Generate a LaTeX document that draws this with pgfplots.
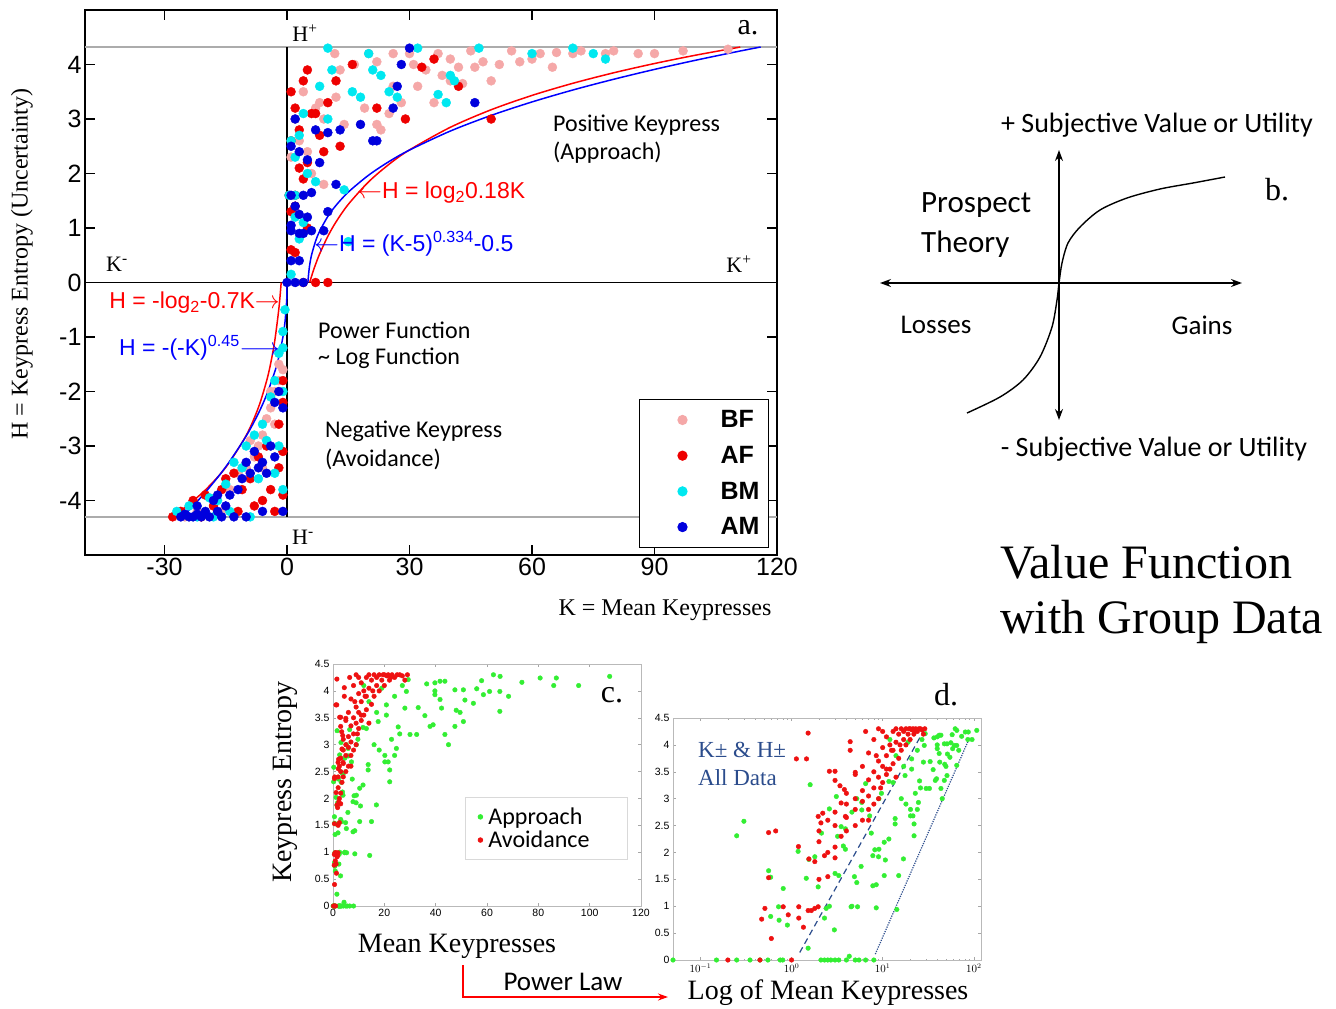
\documentclass[border=0pt]{standalone}
\usepackage{pgfplots}
\pgfplotsset{compat=1.18}
\usepackage{pgfplotstable}
\usetikzlibrary{arrows.meta}
\usepackage{fontspec}
\setmainfont{Liberation Serif}
\newfontfamily\arial{Liberation Sans}
\newfontfamily\calib{Carlito}
\newcommand\fs[1]{\fontsize{#1}{#1}\selectfont}
\definecolor{bf}{HTML}{F5A8A8}
\definecolor{af}{HTML}{EE0000}
\definecolor{bm}{HTML}{00E8F0}
\definecolor{am}{HTML}{0000DD}
\definecolor{grn}{HTML}{33EE33}
\definecolor{rd}{HTML}{EE1111}
\definecolor{dblue}{HTML}{2B4C8C}
\pgfplotsset{
  legA/.style={legend image code/.code={\path[draw=none,fill=none] (0pt,0pt) -- (72pt,0pt); \draw[mark repeat=2,mark phase=2,##1,only marks] plot coordinates {(0pt,0pt) (36pt,0pt) (72pt,0pt)};}},
  legC/.style={legend image code/.code={\path[draw=none,fill=none] (0pt,0pt) -- (12pt,0pt); \draw[mark repeat=2,mark phase=2,##1,only marks] plot coordinates {(0pt,0pt) (6pt,0pt) (12pt,0pt)};}},
}

\pgfplotstableread[row sep=\\]{
K H\\
0.25 2.31\\ 0.30 2.58\\ 0.56 1.66\\ 0.59 1.54\\ 0.59 0.81\\ 0.73 0.74\\ 0.81 1.33\\ 0.72 0.99\\
0.90 0.65\\ 1.18 2.02\\ 1.60 3.26\\ 1.52 0.22\\ 1.55 1.87\\ 1.45 1.52\\ 1.80 1.92\\ 1.96 1.36\\
2.13 2.36\\ 2.30 0.78\\ 2.40 0.96\\ 2.95 0.56\\ 3.10 3.04\\ 3.00 1.61\\ 3.50 2.48\\ 3.20 2.30\\
3.70 2.12\\ 4.50 0.99\\ 4.90 1.55\\ 5.30 0.99\\ 5.80 1.74\\ 5.90 2.79\\ 7.50 2.36\\ 8.20 2.05\\
8.50 1.40\\ 9.70 3.10\\ 9.00 1.92\\ 10.7 1.86\\ 11.7 3.32\\
0.05 0\\ 0.15 0\\ 0.25 0\\ 0.35 0\\ 0.45 0\\ 0.55 0\\ 0.75 0\\ 0.80 0\\ 2.1 0\\ 2.3 0\\ 2.5 0\\
2.7 0\\ 3.0 0\\ 3.3 0\\ 4.0 0\\ 5.0 0\\ 5.5 0\\ 6.5 0\\ 8.0 0\\ 4.3 0.07\\
65.1 4.27\\ 62.5 4.30\\ 73.6 4.16\\ 80.7 4.24\\ 87 4.24\\ 86 4.10\\ 95.7 4.10\\ 107.8 4.27\\
57.9 4.19\\ 56 4.04\\ 61 3.99\\ 58.6 3.93\\ 65 3.99\\ 68.4 3.90\\ 65 3.62\\ 54.7 3.77\\
50.8 4.02\\ 51.4 3.83\\ 47.5 4.02\\ 48 3.64\\ 49.5 3.60\\ 47.5 3.34\\ 50.8 3.43\\ 45 3.00\\
43.6 3.19\\ 43.6 4.18\\ 41.7 4.18\\ 39.7 4.15\\ 39.7 4.00\\ 39.7 3.93\\ 41.7 3.84\\ 42.3 3.68\\
39 3.37\\ 37.8 3.34\\ 35.8 3.54\\ 36.5 4.13\\ 32.6 3.19\\ 30 3.19\\ 33.2 3.69\\ 28.6 3.99\\
28 3.68\\ 29.3 4.21\\ 25.4 3.33\\ 26 3.20\\ 24.7 2.93\\ 24 2.80\\ 22.1 2.31\\ 22.1 2.53\\
22.8 3.10\\ 21.5 2.68\\ 20.2 2.68\\ 20.2 2.80\\ 20.8 3.55\\ 20.8 3.74\\ 17.6 3.43\\ 16.9 1.88\\
15 1.57\\ 14.3 0.94\\ 13.7 2.53\\ 13.7 2.63\\ 11.7 2.25\\ 10.4 2.19\\ 10.4 1.57\\ 9.1 2.06\\
9.1 3.00\\ 8.5 0.97\\ 7.8 1.38\\ 7.8 1.94\\ 4.6 1.00\\ 2.6 1.00\\ 5.2 1.44\\ 3.3 1.57\\
3.9 2.44\\ 4.6 2.75\\ 5.2 3.00\\ 6.5 3.28\\ 5.9 2.93\\ 2.6 2.81\\ 3.9 2.06\\ 7.2 2.68\\
12 4.1\\ 14 3.8\\ 17 3.6\\ 19 4.05\\ 24 3.9\\ 27 4.1\\ 13 3.3\\ 16 3.0\\ 18 2.9\\
}\approachtab

\pgfplotstableread[row sep=\\]{
K H\\
0.47 0.76\\ 0.51 0.96\\ 0.60 0.40\\ 0.56 1.53\\ 0.56 2.37\\ 0.67 2.40\\ 0.92 0.84\\ 0.81 0.99\\
1.13 3.74\\ 1.46 3.74\\ 1.52 4.22\\ 1.19 2.11\\ 1.20 0.78\\ 1.20 0.99\\ 1.35 0.61\\ 1.52 0.92\\
1.65 0.92\\ 1.80 0.96\\ 1.96 0.99\\ 1.55 1.88\\ 1.80 1.83\\ 2.00 1.50\\ 1.96 2.67\\ 2.20 2.73\\
2.10 2.55\\ 2.30 1.94\\ 2.50 1.55\\ 2.60 3.51\\ 3.00 3.51\\ 3.00 3.34\\ 3.40 3.24\\ 3.50 2.92\\
3.80 3.17\\ 3.90 2.67\\ 4.40 4.06\\ 4.40 3.90\\ 5.00 3.49\\ 0.20 0\\ 0.45 0\\ 1.00 0\\
3 1.9\\ 2.5 2.0\\ 3 2.1\\ 2 2.2\\ 3.5 2.3\\ 2 2.4\\ 4 2.4\\ 3 2.5\\ 5 2.5\\ 2.5 2.6\\ 4 2.65\\
6 2.6\\ 3 2.75\\ 5 2.8\\ 7 2.8\\ 4 2.9\\ 6 2.95\\ 8 2.9\\ 5 3.0\\ 7 3.05\\ 9 3.0\\ 4 3.1\\
6 3.15\\ 8 3.2\\ 10 3.3\\ 7 3.35\\ 9 3.4\\ 5 3.45\\ 11 3.45\\ 8 3.5\\ 12 3.55\\ 6 3.6\\ 10 3.6\\
13 3.65\\ 9 3.7\\ 15 3.75\\ 11 3.8\\ 7 3.85\\ 13 3.9\\ 16 3.9\\ 10 3.95\\ 12 4.0\\ 18 4.0\\
14 4.05\\ 17 4.1\\ 20 4.1\\ 8 4.1\\ 11 4.15\\ 15 4.2\\ 19 4.2\\ 22 4.2\\ 13 4.25\\ 17 4.25\\
21 4.28\\ 24 4.25\\ 16 4.3\\ 18 4.3\\ 20 4.3\\ 23 4.3\\ 25 4.3\\ 27 4.28\\ 29 4.3\\ 28 4.2\\
9 4.3\\ 10 4.25\\ 14 3.4\\ 7 2.6\\ 6.5 4.25\\ 8.5 3.8\\ 12.5 3.9\\ 15.5 4.0\\ 19.5 4.3\\
21.5 4.3\\ 22.5 4.25\\ 26 4.3\\ 14 4.3\\ 11 3.55\\ 9.5 3.2\\
}\avoidtab

\begin{document}
\begin{tikzpicture}
\path[use as bounding box] (0pt,0pt) rectangle (1336pt,-1009pt);

%% ---------------- Panel a ----------------
\begin{axis}[at={(85pt,-10pt)}, anchor=north west, scale only axis,
  width=692pt, height=545pt,
  xmin=-49.47, xmax=120, ymin=-5, ymax=5,
  xtick={-30,0,30,60,90,120}, ytick={-4,-3,...,4},
  tick align=inside, major tick length=10pt,
  axis line style={line width=1.5pt},
  every tick/.style={black, line width=1.2pt},
  ticklabel style={font=\arial\fs{25}},
  /pgf/number format/assume math mode=true,
  legend cell align=left,
  legend style={at={(0.9884,0.0128)}, anchor=south east, draw=black, line width=1.2pt,
    fill=white, font=\arial\bfseries\fs{25}, inner xsep=7pt, inner ysep=5pt,
    row sep=5pt, nodes={inner xsep=2pt, inner ysep=6pt}},
  mark size=4.5pt]
\addplot[forget plot, gray!65, line width=1.6pt] coordinates {(-49.47,4.32) (120,4.32)};
\addplot[forget plot, gray!65, line width=1.6pt] coordinates {(-49.47,-4.3) (120,-4.3)};
\addplot[forget plot, black, line width=1.6pt] coordinates {(-49.47,0) (120,0)};
\addplot[forget plot, black, line width=1.6pt] coordinates {(0,-4.3) (0,4.32)};
% fitted curves
\addplot[forget plot, red, line width=1.5pt, smooth] coordinates {(5.56,0) (5.7,0.037) (6,0.111) (6.5,0.227) (7,0.333) (8,0.526) (10,0.848) (12,1.111) (15,1.433) (20,1.848) (25,2.170) (30,2.433) (40,2.848) (50,3.170) (60,3.433) (70,3.655) (80,3.848) (90,4.018) (100,4.170) (111,4.320)};
\addplot[forget plot, blue, line width=1.5pt, smooth] coordinates {(5.125,0) (5.15,0.031) (5.2,0.084) (5.5,0.293) (6,0.5) (7,0.760) (8,0.943) (10,1.212) (12,1.415) (15,1.658) (20,1.970) (25,2.220) (30,2.430) (40,2.779) (50,3.066) (60,3.313) (70,3.532) (80,3.729) (90,3.910) (100,4.077) (110,4.233) (116,4.321)};
\addplot[forget plot, red, line width=1.5pt, smooth] coordinates {(-1.43,0) (-1.5,-0.070) (-2,-0.485) (-3,-1.070) (-4,-1.485) (-5,-1.807) (-7,-2.293) (-10,-2.807) (-15,-3.392) (-20,-3.807) (-25,-4.129) (-28.5,-4.318)};
\addplot[forget plot, blue, line width=1.5pt, smooth] coordinates {(0,0) (-0.02,-0.172) (-0.1,-0.355) (-0.5,-0.732) (-1,-1) (-2,-1.366) (-3,-1.639) (-5,-2.063) (-7,-2.400) (-10,-2.818) (-15,-3.383) (-20,-3.850) (-25,-4.257) (-26,-4.30)};
% groups
\addplot[only marks, mark=*, color=bf, legA] coordinates {
(11.7,4.2) (13,3.9) (16.5,4.0) (20,4.2) (22,4.05) (26,4.2) (30,4.2) (31,4.0) (32,3.6) (34,3.9)
(37,4.2) (38,3.8) (40,4.1) (40,3.7) (42,3.95) (43,3.65) (46,3.95) (48,4.05) (50,3.7) (52,4.0)
(55,4.25) (57,4.05) (60,4.1) (62,4.2) (65,3.95) (70,4.2) (72,4.25) (78,4.2) (86,4.2) (90,4.2)
(108,4.28) (7,3.2) (8,3.3) (9,3.0) (12,3.4) (14,2.9) (19,3.2) (22,2.9) (25,3.1) (28,3.3) (26,3.6)
(6,2.0) (9,1.8) (23,2.8) (36,3.3) (5,2.4) (3,2.6) (1,2.3) (2,3.0) (4,3.5) (45,4.25) (66,4.22) (80,4.25) (97,4.25)
(-2,-1.5) (-3,-2) (-4,-2.3) (-5,-2.5) (-6,-2.8) (-7,-3.0) (-8,-3.2) (-10,-3.4) (-14,-3.8) (-18,-4.1)
(-22,-4.2) (-25,-4.3) (-12,-3.5) (-9,-2.9) (-4,-2.0) (-2,-1.8) (-1,-1.6) (-16,-4.2) (-6,-3.4) (-3,-2.6)};
\addlegendentry{BF}
\addplot[only marks, mark=*, color=af, legA] coordinates {
(1,3.5) (2,3.2) (3,2.8) (5,3.9) (7,3.1) (8,2.7) (10,3.3) (12,3.7) (13,2.5) (16,4.0) (22,3.2) (29,3.0)
(33,3.95) (36,4.1) (42,3.6) (50,3.0) (3,2.1) (2,1.6) (4,1.9) (1,1.3) (2,1.4) (5,1.0) (1,0.6) (2,0.55)
(5,2.2) (4,3.7) (1,2.6) (6,3.1) (9,2.4) (4,0.0) (7,0.0) (10,0.0) (0.5,1.6)
(-28,-4.3) (-26,-4.2) (-23,-4.0) (-20,-3.9) (-18,-4.1) (-15,-3.6) (-13,-3.5) (-11,-3.8) (-9,-3.6)
(-7,-3.2) (-6,-4.0) (-4,-3.8) (-2,-3.4) (-1,-3.1) (-1,-2.2) (-1,-1.8) (-2,-2.6) (-5,-3.0) (-3,-4.2)
(-8,-4.1) (-16,-3.8) (-21,-4.3) (-12,-4.2) (-1,-3.9)};
\addlegendentry{AF}
\addplot[only marks, mark=*, color=bm, legA] coordinates {
(10,4.3) (20,4.2) (21,3.9) (23,3.8) (32,4.3) (40,3.8) (41,3.7) (47,4.3) (60,4.2) (70,4.3) (75,4.2)
(78,4.1) (11,3.9) (18,3.4) (25,3.5) (27,3.4) (37,3.45) (39,3.3) (8,3.6) (4,3.1) (3,2.7) (1,2.6)
(2,2.3) (5,2.0) (7,1.85) (2,1.2) (4,1.1) (15,0.75) (3,0.8) (1,0.15) (2,1.6) (10,3.0) (0.5,1.6)
(14,1.7) (16,3.5)
(-27,-4.2) (-24,-4.1) (-22,-4.3) (-19,-3.95) (-17,-4.0) (-15,-3.7) (-13,-3.3) (-11,-3.4) (-10,-3.0)
(-8,-2.8) (-6,-2.6) (-5,-2.9) (-4,-2.1) (-3,-1.8) (-2,-1.3) (-1,-1.2) (-1,-0.9) (-0.5,-0.5)
(-1,-2.0) (-2,-3.0) (-3,-3.5) (-7,-3.6) (-14,-4.2) (-9,-4.3) (-1,-3.8) (-18,-4.3)};
\addlegendentry{BM}
\addplot[only marks, mark=*, color=am, legA] coordinates {
(30,4.3) (28,4.0) (27,3.6) (46,3.3) (21,2.6) (22,2.6) (7,2.8) (10,2.75) (13,2.8) (2,3.0) (3,2.4)
(5,2.25) (1,1.6) (2,1.4) (4,1.6) (6,1.65) (10,1.3) (3,1.25) (1,1.05) (5,1.2) (1,0.95) (3,0.9)
(4,0.9) (6,0.95) (9,0.95) (1,0.4) (3,0.4) (0,0) (2,0) (4,0) (1,2.5) (8,2.2) (12,1.8) (18,2.9) (26,3.2)
(-26,-4.3) (-25,-4.25) (-24,-4.3) (-23,-4.3) (-22,-4.25) (-21,-4.3) (-20,-4.2) (-19,-4.3) (-18,-4.0)
(-17,-4.2) (-16,-4.3) (-15,-4.1) (-14,-3.9) (-13,-4.3) (-12,-3.8) (-11,-3.6) (-10,-3.3) (-9,-3.5)
(-8,-3.1) (-7,-3.4) (-6,-3.3) (-5,-3.5) (-4,-3.0) (-3,-2.2) (-2,-2.0) (-1,-2.3) (-1,-4.2) (-10,-4.3)
(-6,-4.2) (-3,-3.2) (-17,-3.9) (-22,-4.1)};
\addlegendentry{AM}
\end{axis}

%% ---------------- Panel b ----------------
\begin{axis}[at={(860pt,-470pt)}, anchor=south west, scale only axis,
  width=470pt, height=370pt, xmin=860, xmax=1330, ymin=-470, ymax=-100,
  hide axis, clip=false]
\addplot[black, line width=1.4pt, {Stealth[length=11pt,width=8pt]}-{Stealth[length=11pt,width=8pt]}] coordinates {(880,-283) (1242,-283)};
\addplot[black, line width=1.4pt, {Stealth[length=11pt,width=8pt]}-{Stealth[length=11pt,width=8pt]}] coordinates {(1059,-420) (1059,-150)};
\addplot[black, line width=1.4pt, smooth] coordinates {(967,-413) (1000,-397) (1023,-380) (1040,-357) (1052,-327) (1057,-300) (1059,-283) (1062,-263) (1068,-243) (1080,-227) (1100,-210) (1127,-198) (1160,-189) (1193,-183) (1225,-177)};
\end{axis}

%% ---------------- Panel c ----------------
\begin{axis}[at={(333pt,-906pt)}, anchor=south west, scale only axis,
  width=308pt, height=242pt, xmin=0, xmax=120, ymin=0, ymax=4.5,
  xtick={0,20,...,120}, ytick={0,0.5,...,4.5},
  tick align=inside, major tick length=3pt,
  axis line style={gray!55, line width=0.7pt},
  every tick/.style={gray!70},
  ticklabel style={font=\arial\fs{10.5}},
  /pgf/number format/assume math mode=true,
  legend cell align=left,
  legend style={at={(0.4286,0.19)}, anchor=south west, draw=gray!30, line width=0.8pt,
    fill=white, font=\calib\fs{24}, inner xsep=9pt, inner ysep=8pt, row sep=0pt,
    nodes={inner xsep=2pt, inner ysep=2.5pt}},
  mark size=2.3pt]
\addplot[only marks, mark=*, color=grn, legC] table[x=K, y=H] {\approachtab};
\addlegendentry{Approach}
\addplot[only marks, mark=*, color=rd, legC] table[x=K, y=H] {\avoidtab};
\addlegendentry{\makebox[128pt][l]{Avoidance}}
\end{axis}

%% ---------------- Panel d ----------------
\begin{axis}[at={(673pt,-960pt)}, anchor=south west, scale only axis,
  width=308pt, height=242pt, xmode=log, xmin=0.05, xmax=120, ymin=0, ymax=4.5,
  xtick={0.1,1,10,100}, ytick={0,0.5,...,4.5},
  tick align=inside, major tick length=3pt, minor tick length=1.5pt,
  axis line style={gray!55, line width=0.7pt},
  every tick/.style={gray!70},
  ticklabel style={font=\arial\fs{10.5}},
  yticklabel style={/pgf/number format/assume math mode=true},
  mark size=2.3pt]
\addplot[only marks, mark=*, color=grn] table[x=K, y=H] {\approachtab};
\addplot[only marks, mark=*, color=rd] table[x=K, y=H] {\avoidtab};
\addplot[dblue, line width=1.2pt, dash pattern=on 6pt off 4pt] coordinates {(1.23,0.14) (30.1,4.35)};
\addplot[dblue, line width=1.2pt, dash pattern=on 1.2pt off 1.2pt] coordinates {(8.3,0.11) (89.7,4.13)};
\end{axis}

%% ---------------- Text ----------------
% panel a
\node[font=\fs{30}] at (748pt,-28pt) {a.};
\node[font=\fs{22}] at (305pt,-33pt) {H\textsuperscript{+}};
\node[font=\fs{22}] at (303pt,-537pt) {H\textsuperscript{-}};
\node[font=\fs{22}] at (117pt,-264pt) {K\textsuperscript{-}};
\node[font=\fs{22}] at (739pt,-264pt) {K\textsuperscript{+}};
\node[font=\calib\fs{24}, anchor=west, inner sep=0pt] at (553pt,-125pt) {Positive Keypress};
\node[font=\calib\fs{24}, anchor=west, inner sep=0pt] at (553pt,-153pt) {(Approach)};
\node[font=\calib\fs{24}, anchor=west, inner sep=0pt] at (318pt,-330pt) {Power Function};
\node[font=\calib\fs{24}, anchor=west, inner sep=0pt] at (318pt,-358pt) {\textasciitilde{} Log Function};
\node[font=\calib\fs{24}, anchor=west, inner sep=0pt] at (325pt,-431pt) {Negative Keypress};
\node[font=\calib\fs{24}, anchor=west, inner sep=0pt] at (325pt,-459pt) {(Avoidance)};
\node[font=\arial\fs{23}, text=red, anchor=west, inner sep=0pt] at (357pt,-193pt) {$\leftarrow$H = log\textsubscript{2}0.18K};
\node[font=\arial\fs{23}, text=blue, anchor=west, inner sep=0pt] at (314pt,-244pt) {$\leftarrow$H = (K-5)\textsuperscript{0.334}-0.5};
\node[font=\arial\fs{23}, text=red, anchor=east, inner sep=0pt] at (280pt,-303pt) {H = -log\textsubscript{2}-0.7K$\rightarrow$};
\node[font=\arial\fs{23}, text=blue, anchor=east, inner sep=0pt] at (280pt,-348pt) {H = -(-K)\textsuperscript{0.45}$\longrightarrow$};
\node[font=\fs{24}, rotate=90] at (22pt,-264pt) {H = Keypress Entropy (Uncertainty)};
\node[font=\fs{24}] at (665pt,-610pt) {K = Mean Keypresses};
% panel b
\node[font=\calib\fs{28}] at (1157pt,-125pt) {+ Subjective Value or Utility};
\node[font=\calib\fs{28}] at (1154pt,-449pt) {- Subjective Value or Utility};
\node[font=\calib\fs{31}, anchor=west, inner sep=0pt] at (921pt,-205pt) {Prospect};
\node[font=\calib\fs{31}, anchor=west, inner sep=0pt] at (921pt,-244pt) {Theory};
\node[font=\calib\fs{27}] at (936pt,-325pt) {Losses};
\node[font=\calib\fs{27}] at (1202pt,-325pt) {Gains};
\node[font=\fs{32}] at (1277pt,-190pt) {b.};
% title
\node[font=\fs{48}, anchor=west, inner sep=0pt] at (1000pt,-562pt) {Value Function};
\node[font=\fs{48}, anchor=west, inner sep=0pt] at (1000pt,-622pt) {with Group Data};
% panel c
\node[font=\fs{32}] at (612pt,-695pt) {c.};
\node[font=\fs{28}, rotate=90] at (285pt,-782pt) {Keypress Entropy};
\node[font=\fs{28}] at (457pt,-946pt) {Mean Keypresses};
% panel d
\node[font=\fs{32}] at (946pt,-695pt) {d.};
\node[font=\fs{23}, text=dblue, anchor=west, inner sep=0pt] at (698pt,-750pt) {K±~\&~H±};
\node[font=\fs{23}, text=dblue, anchor=west, inner sep=0pt] at (698pt,-778pt) {All Data};
\node[font=\fs{28}] at (828pt,-993pt) {Log of Mean Keypresses};
% power law arrow
\draw[red, line width=1.4pt, -{Stealth[length=10pt,width=7pt]}] (463pt,-965pt) -- (463pt,-997pt) -- (668pt,-997pt);
\node[font=\calib\fs{27}] at (563pt,-982pt) {Power Law};
\end{tikzpicture}
\end{document}
